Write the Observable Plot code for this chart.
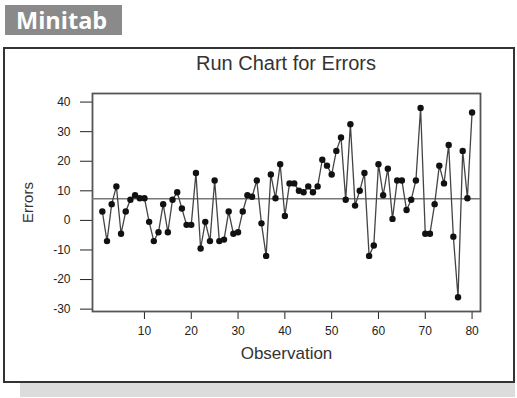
<!DOCTYPE html>
<html><head><meta charset="utf-8">
<script src="https://cdn.jsdelivr.net/npm/d3@7"></script>
<script src="https://cdn.jsdelivr.net/npm/@observablehq/plot@0.6"></script>
<style>
body{margin:0;background:#fff;width:517px;height:398px;position:relative;overflow:hidden;font-family:"Liberation Sans",Arial,sans-serif;}
#badge{position:absolute;left:5px;top:5px;width:117px;height:30px;background:#8a8a8a;color:#fff;font:bold 23.5px "Open Sans",sans-serif;line-height:30px;padding-left:11px;box-sizing:border-box;}
#shadow{position:absolute;left:20px;top:383px;width:495px;height:14px;background:#dcdcdc;}
#panel{position:absolute;left:3px;top:47px;width:512px;height:336px;border:2px solid #333;box-sizing:border-box;background:#fff;}
#title{position:absolute;left:92px;width:388px;top:52px;text-align:center;font-size:20px;line-height:22px;color:#333;}
#chart{position:absolute;left:5px;top:49px;}
</style>
</head><body>
<div id="badge">Minitab</div>
<div id="shadow"></div>
<div id="panel"></div>
<div id="title">Run Chart for Errors</div>
<div id="chart"></div>
<script>
const errors = [3,-7,5.5,11.5,-4.5,3,7,8.5,7.5,7.5,
  -0.5,-7,-4,5.5,-4,7,9.5,4,-1.5,-1.5,
  16,-9.5,-0.5,-7,13.5,-7,-6.5,3,-4.5,-4,
  3,8.5,8,13.5,-1,-12,15.5,7.5,19,1.5,
  12.5,12.5,10,9.5,11.5,9.5,11.5,20.5,18.5,15.5,
  23.5,28,7,32.5,5,10,16,-12,-8.5,19,
  8.5,17.5,0.5,13.5,13.5,3.5,7,13.5,38,-4.5,
  -4.5,5.5,18.5,12.5,25.5,-5.5,-26,23.5,7.5,36.5];
const xTicks = [10,20,30,40,50,60,70,80];
const yTicks = [-30,-20,-10,0,10,20,30,40];
const centerLine = [7.3];
const xLabel = ["Observation"];
const yLabel = ["Errors"];

const data = errors.map((e,i)=>({obs:i+1, err:e}));
const chart = Plot.plot({
  width:508, height:331, marginLeft:87, marginRight:33, marginTop:44, marginBottom:69,
  style:{fontFamily:'"Liberation Sans",Arial,sans-serif', fontSize:"12px", color:"#222", background:"transparent", overflow:"visible"},
  x:{domain:[-1.1,81.8], ticks:xTicks, tickSize:8, tickPadding:7, label:null, tickFormat:d=>d},
  y:{domain:[-30.8,42.9], ticks:yTicks, tickSize:12, tickPadding:10, label:null, tickFormat:d=>d},
  marks:[
    Plot.frame({stroke:"#555", strokeWidth:1.8}),
    Plot.ruleY(centerLine, {stroke:"#777", strokeWidth:1.6}),
    Plot.line(data,{x:"obs",y:"err",stroke:"#444",strokeWidth:1.3}),
    Plot.dot(data,{x:"obs",y:"err",r:3.2,fill:"#111",stroke:"none"}),
    Plot.text(xLabel,{text:d=>d, frameAnchor:"bottom", dy:42, lineAnchor:"middle", textAnchor:"middle", fontSize:17, fill:"#333"}),
    Plot.text(yLabel,{text:d=>d, frameAnchor:"left", dx:-64, rotate:-90, lineAnchor:"middle", textAnchor:"middle", fontSize:15, fill:"#333"})
  ]
});
document.getElementById("chart").appendChild(chart);
</script>
</body></html>
